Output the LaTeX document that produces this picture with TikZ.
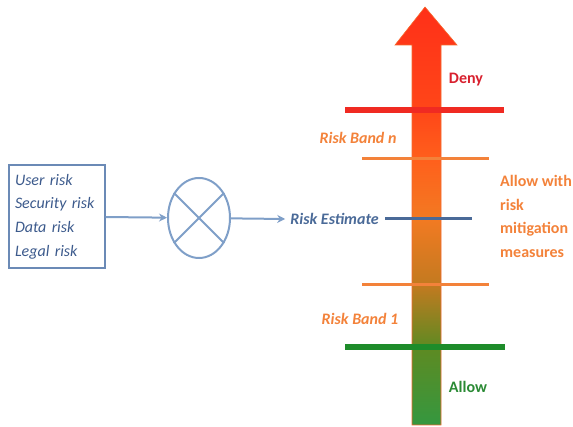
\documentclass[tikz,border=0pt]{standalone}
\usepackage{fontspec}
\setmainfont{Carlito}
\usetikzlibrary{shapes.geometric,arrows.meta}
\definecolor{riskblue}{HTML}{3C5A8C}
\definecolor{flowblue}{HTML}{7F9FC8}
\definecolor{estblue}{HTML}{4A6A98}
\definecolor{denyred}{HTML}{D8202E}
\definecolor{lineRed}{HTML}{F02A22}
\definecolor{bandorange}{HTML}{F3823A}
\definecolor{allowgreen}{HTML}{2A8A34}
\definecolor{lineGreen}{HTML}{1E8C2A}
\pgfdeclareverticalshading{riskshade}{100bp}{color(0bp)=(lineGreen!90!white); color(25bp)=(lineGreen!90!white);
  color(34.3bp)=({rgb,255:red,94;green,138;blue,34}); color(41.7bp)=({rgb,255:red,194;green,122;blue,32});
  color(49.6bp)=({rgb,255:red,242;green,122;blue,34}); color(56.7bp)=({rgb,255:red,255;green,96;blue,28});
  color(62.7bp)=({rgb,255:red,255;green,70;blue,24}); color(75bp)=({rgb,255:red,255;green,48;blue,24});
  color(100bp)=({rgb,255:red,255;green,48;blue,24})}
\tikzset{
  txt/.style={font=\fontsize{16}{23.7}\selectfont, inner sep=0pt},
  flow/.style={draw=flowblue, line width=2pt, -{Stealth[length=8pt,width=8pt]}},
  thick band/.style={line width=5.5pt},
  thin band/.style={draw=bandorange, line width=3pt},
}
\begin{document}
\begin{tikzpicture}[x=1pt,y=-1pt]
\useasboundingbox (0,0) rectangle (573,427);
% scale arrow
\shade[shading=riskshade, draw=bandorange!80!red, line width=0.6pt]
  (412,425) -- (412,45) -- (395,45) -- (425,7) -- (457,45) -- (441,45) -- (441,425) -- cycle;
% thresholds
\draw[thick band, lineRed] (345,110) -- (504,110);
\draw[thin band] (362,159) -- (489,159);
\draw[line width=3pt, estblue] (385,219) -- (472,219);
\draw[thin band] (362,285) -- (489,285);
\draw[thick band, lineGreen] (345,347) -- (505,347);
% labels
\node[txt, text=denyred, font=\fontsize{16}{23.7}\selectfont\bfseries] (deny) at (466,80) {Deny};
\node[txt, text=bandorange, font=\fontsize{16}{23.7}\selectfont\bfseries\itshape] (bandn) at (358,138) {Risk Band n};
\node[txt, text=bandorange, font=\fontsize{16}{23.7}\selectfont\bfseries, align=left, anchor=north west] (mitig) at (500,175) {Allow with\\risk\\mitigation\\measures};
\node[txt, text=estblue, font=\fontsize{16}{23.7}\selectfont\bfseries\itshape, anchor=east] (est) at (379,219) {Risk Estimate};
\node[txt, text=bandorange, font=\fontsize{16}{23.7}\selectfont\bfseries\itshape] (band1) at (360,319) {Risk Band 1};
\node[txt, text=allowgreen, font=\fontsize{16}{23.7}\selectfont\bfseries] (allow) at (468,387) {Allow};
% inputs
\node[txt, draw=flowblue!70!riskblue, line width=1.3pt, text=riskblue, font=\fontsize{16}{23.7}\selectfont\itshape,
  align=left, text width=84pt, minimum width=96pt, minimum height=103pt, inner xsep=6pt] (risks) at (57,216.5)
  {User risk\\Security risk\\Data risk\\Legal risk};
\node[ellipse, draw=flowblue, line width=2pt, minimum width=62pt, minimum height=80pt, inner sep=0pt] (mult) at (199,218) {};
\draw[flowblue, line width=2pt] (mult.135) -- (mult.-45);
\draw[flowblue, line width=2pt] (mult.45) -- (mult.-135);
\draw[flow] (risks) -- (mult);
\draw[flow] (mult) -- ([xshift=-5pt]est.west);
\end{tikzpicture}
\end{document}
